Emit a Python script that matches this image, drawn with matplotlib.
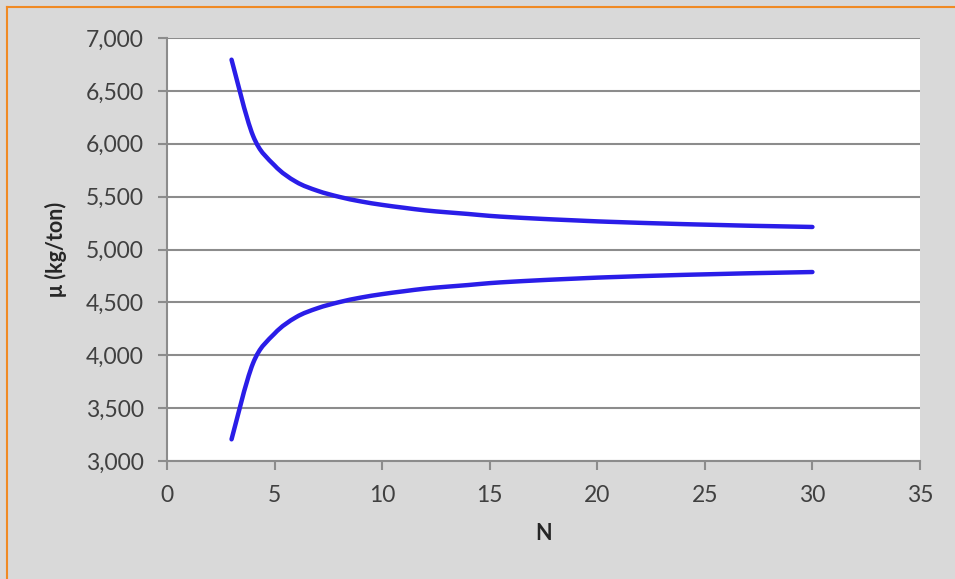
import matplotlib
matplotlib.use("Agg")
import matplotlib.pyplot as plt
from matplotlib.lines import Line2D
from matplotlib.path import Path
from matplotlib.patches import PathPatch
from matplotlib.ticker import FuncFormatter

# Sample size N and the upper / lower bounds of mu (kg/ton)
n_values = list(range(3, 31))
upper = [6795, 6075, 5795, 5640, 5555, 5498, 5455, 5422, 5395, 5370,
         5352, 5336, 5318, 5305, 5294, 5284, 5275, 5266, 5259, 5252,
         5246, 5240, 5235, 5230, 5225, 5221, 5217, 5213]
lower = [3205, 3925, 4205, 4360, 4445, 4502, 4545, 4578, 4605, 4630,
         4648, 4664, 4682, 4695, 4706, 4716, 4725, 4734, 4741, 4748,
         4754, 4760, 4765, 4770, 4775, 4779, 4783, 4787]

x_ticks = [0, 5, 10, 15, 20, 25, 30, 35]
y_ticks = [3000, 3500, 4000, 4500, 5000, 5500, 6000, 6500, 7000]


def smooth_path(xs, ys):
    """Bezier path through the points (Catmull-Rom style smoothed line)."""
    pts = list(zip(xs, ys))
    verts = [pts[0]]
    codes = [Path.MOVETO]
    n = len(pts)
    for i in range(n - 1):
        p0 = pts[i - 1] if i > 0 else pts[i]
        p1 = pts[i]
        p2 = pts[i + 1]
        p3 = pts[i + 2] if i + 2 < n else pts[i + 1]
        c1 = (p1[0] + (p2[0] - p0[0]) / 6, p1[1] + (p2[1] - p0[1]) / 6)
        c2 = (p2[0] - (p3[0] - p1[0]) / 6, p2[1] - (p3[1] - p1[1]) / 6)
        verts += [c1, c2, p2]
        codes += [Path.CURVE4] * 3
    return Path(verts, codes)


W, H = 955, 579
fig = plt.figure(figsize=(W / 100, H / 100), dpi=100, facecolor="#d9d9d9")
ax = fig.add_axes([167 / W, 1 - 461 / H, (920 - 167) / W, (461 - 38) / H])
ax.set_facecolor("white")

line_color = "#2a1de8"
for series in (upper, lower):
    ax.add_patch(PathPatch(smooth_path(n_values, series), facecolor="none",
                           edgecolor=line_color, lw=3.2, capstyle="round",
                           joinstyle="round", zorder=3))

ax.set_xlim(0, 35)
ax.set_ylim(3000, 7000)
ax.set_xticks(x_ticks)
ax.set_yticks(y_ticks)
ax.yaxis.set_major_formatter(FuncFormatter(lambda v, p: f"{int(v):,}"))

grid_color = "#8c8c8c"
ax.grid(axis="y", color=grid_color, lw=1.5, zorder=1)
ax.set_axisbelow(True)
for side in ("top", "right"):
    ax.spines[side].set_visible(False)
for side in ("left", "bottom"):
    ax.spines[side].set_color(grid_color)
    ax.spines[side].set_linewidth(1.5)

font = "Lato"
ax.tick_params(axis="both", colors=grid_color, width=1.5, length=6.5,
               labelcolor="#404040", labelsize=16.5, direction="out")
ax.tick_params(axis="x", pad=11)
ax.tick_params(axis="y", pad=10)
for lbl in ax.get_xticklabels() + ax.get_yticklabels():
    lbl.set_fontfamily(font)

ax.set_xlabel("N", fontsize=15.5, fontweight="bold", family=font,
              color="#262626", labelpad=12)
ax.set_ylabel("μ (kg/ton)", fontsize=15.5, fontweight="bold",
              family=[font, "DejaVu Sans"], color="#262626", labelpad=14)

# orange frame edges along the top and left of the chart area
orange = "#f08a24"
fig.add_artist(Line2D([7 / W, 1], [1 - 7 / H, 1 - 7 / H], color=orange,
                      lw=1.5, transform=fig.transFigure))
fig.add_artist(Line2D([7 / W, 7 / W], [0, 1 - 7 / H], color=orange,
                      lw=1.5, transform=fig.transFigure))

fig.savefig("out.png", dpi=100, facecolor=fig.get_facecolor())
